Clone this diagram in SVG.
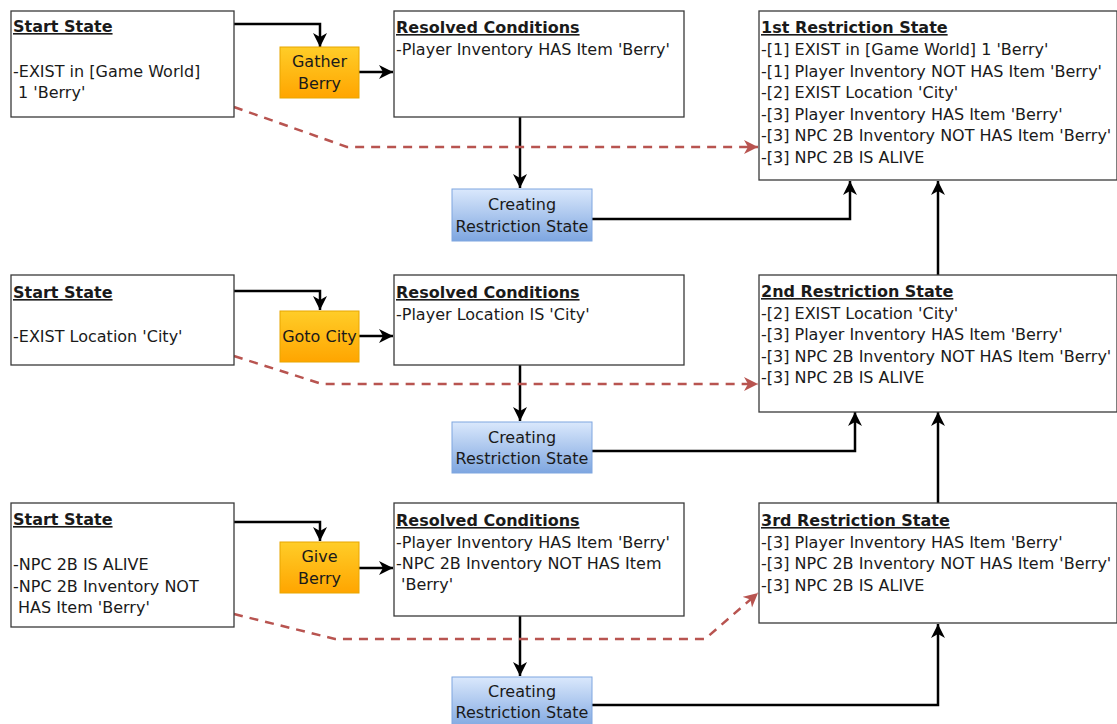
<svg xmlns="http://www.w3.org/2000/svg" width="1117" height="724" viewBox="0 0 1117 724">
  <style>
    text { font-family: "DejaVu Sans", Verdana, sans-serif; font-size: 16px; fill: #1a1a1a; }
    .title { font-weight: bold; text-decoration: underline; }
    .mid { text-anchor: middle; }
    .box { fill: #ffffff; stroke: #3a3a3a; stroke-width: 1.3; }
    .act { fill: url(#orange); stroke: #e8a600; stroke-width: 1; }
    .proc { fill: url(#blue); stroke: #7ea6e0; stroke-width: 1; }
    .flow { fill: none; stroke: #000000; stroke-width: 2.5; marker-end: url(#arrow); }
    .dash { fill: none; stroke: #b85450; stroke-width: 2.5; stroke-dasharray: 9 7; marker-end: url(#arrowRed); }
  </style>
  <defs>
    <linearGradient id="orange" x1="0" y1="0" x2="0" y2="1">
      <stop offset="0" stop-color="#ffcd28"/>
      <stop offset="1" stop-color="#ffa500"/>
    </linearGradient>
    <linearGradient id="blue" x1="0" y1="0" x2="0" y2="1">
      <stop offset="0" stop-color="#dae8fc"/>
      <stop offset="1" stop-color="#7ea6e0"/>
    </linearGradient>
    <marker id="arrow" markerUnits="userSpaceOnUse" markerWidth="16" markerHeight="16" refX="14" refY="7" orient="auto">
      <path d="M0,0 L14,7 L0,14 L4,7 Z" fill="#000000"/>
    </marker>
    <marker id="arrowRed" markerUnits="userSpaceOnUse" markerWidth="16" markerHeight="16" refX="14" refY="7" orient="auto">
      <path d="M0,0 L14,7 L0,14 L4,7 Z" fill="#b85450"/>
    </marker>
  </defs>

  <!-- connectors -->
  <g id="connectors">
    <!-- row 1 -->
    <path class="flow" d="M234,24 H320 V47"/>
    <path class="flow" d="M359,72 H393"/>
    <path class="flow" d="M520,117 V188"/>
    <path class="flow" d="M592,219 H850 V181"/>
    <path class="dash" d="M234,107 L347,147 H758"/>
    <path class="flow" d="M938,275 V181"/>
    <!-- row 2 -->
    <path class="flow" d="M234,291 H320 V310"/>
    <path class="flow" d="M359,336 H393"/>
    <path class="flow" d="M520,365 V421"/>
    <path class="flow" d="M592,451 H855 V412"/>
    <path class="dash" d="M234,356 L322,384 H758"/>
    <path class="flow" d="M938,503 V412"/>
    <!-- row 3 -->
    <path class="flow" d="M232,522 H320 V541"/>
    <path class="flow" d="M359,568 H393"/>
    <path class="flow" d="M520,616 V676"/>
    <path class="flow" d="M592,705 H938 V624"/>
    <path class="dash" d="M234,614 L335,639 H705 L758,593"/>
  </g>

  <!-- row 1 -->
  <g id="start1">
    <rect class="box" x="11" y="11" width="223" height="106"/>
    <text class="title" x="13" y="32">Start State</text>
    <text x="13" y="77">-EXIST in [Game World]</text>
    <text x="13" y="98" xml:space="preserve"> 1 'Berry'</text>
  </g>
  <g id="gatherBerry">
    <rect class="act" x="280" y="47" width="79" height="51"/>
    <text class="mid" x="319.5" y="67">Gather</text>
    <text class="mid" x="319.5" y="89">Berry</text>
  </g>
  <g id="resolved1">
    <rect class="box" x="394" y="11" width="290" height="106"/>
    <text class="title" x="396" y="33">Resolved Conditions</text>
    <text x="396" y="55">-Player Inventory HAS Item 'Berry'</text>
  </g>
  <g id="creating1">
    <rect class="proc" x="452" y="189" width="140" height="52"/>
    <text class="mid" x="522" y="210">Creating</text>
    <text class="mid" x="522" y="232">Restriction State</text>
  </g>
  <g id="restriction1">
    <rect class="box" x="759" y="11" width="358" height="169"/>
    <text class="title" x="761" y="33">1st Restriction State</text>
    <text x="761" y="55">-[1] EXIST in [Game World] 1 'Berry'</text>
    <text x="761" y="77">-[1] Player Inventory NOT HAS Item 'Berry'</text>
    <text x="761" y="98">-[2] EXIST Location 'City'</text>
    <text x="761" y="120">-[3] Player Inventory HAS Item 'Berry'</text>
    <text x="761" y="141">-[3] NPC 2B Inventory NOT HAS Item 'Berry'</text>
    <text x="761" y="163">-[3] NPC 2B IS ALIVE</text>
  </g>

  <!-- row 2 -->
  <g id="start2">
    <rect class="box" x="11" y="275" width="223" height="90"/>
    <text class="title" x="13" y="298">Start State</text>
    <text x="13" y="342">-EXIST Location 'City'</text>
  </g>
  <g id="gotoCity">
    <rect class="act" x="280" y="311" width="79" height="51"/>
    <text class="mid" x="319.5" y="342">Goto City</text>
  </g>
  <g id="resolved2">
    <rect class="box" x="394" y="275" width="290" height="90"/>
    <text class="title" x="396" y="298">Resolved Conditions</text>
    <text x="396" y="320">-Player Location IS 'City'</text>
  </g>
  <g id="creating2">
    <rect class="proc" x="452" y="422" width="140" height="51"/>
    <text class="mid" x="522" y="443">Creating</text>
    <text class="mid" x="522" y="464">Restriction State</text>
  </g>
  <g id="restriction2">
    <rect class="box" x="759" y="275" width="358" height="137"/>
    <text class="title" x="761" y="297">2nd Restriction State</text>
    <text x="761" y="319">-[2] EXIST Location 'City'</text>
    <text x="761" y="340">-[3] Player Inventory HAS Item 'Berry'</text>
    <text x="761" y="362">-[3] NPC 2B Inventory NOT HAS Item 'Berry'</text>
    <text x="761" y="383">-[3] NPC 2B IS ALIVE</text>
  </g>

  <!-- row 3 -->
  <g id="start3">
    <rect class="box" x="11" y="503" width="223" height="124"/>
    <text class="title" x="13" y="525">Start State</text>
    <text x="13" y="570">-NPC 2B IS ALIVE</text>
    <text x="13" y="592">-NPC 2B Inventory NOT</text>
    <text x="13" y="613" xml:space="preserve"> HAS Item 'Berry'</text>
  </g>
  <g id="giveBerry">
    <rect class="act" x="280" y="542" width="79" height="51"/>
    <text class="mid" x="319.5" y="562">Give</text>
    <text class="mid" x="319.5" y="584">Berry</text>
  </g>
  <g id="resolved3">
    <rect class="box" x="394" y="503" width="290" height="113"/>
    <text class="title" x="396" y="526">Resolved Conditions</text>
    <text x="396" y="548">-Player Inventory HAS Item 'Berry'</text>
    <text x="396" y="569">-NPC 2B Inventory NOT HAS Item</text>
    <text x="396" y="590" xml:space="preserve"> 'Berry'</text>
  </g>
  <g id="creating3">
    <rect class="proc" x="452" y="677" width="140" height="52"/>
    <text class="mid" x="522" y="697">Creating</text>
    <text class="mid" x="522" y="718">Restriction State</text>
  </g>
  <g id="restriction3">
    <rect class="box" x="759" y="503" width="358" height="120"/>
    <text class="title" x="761" y="526">3rd Restriction State</text>
    <text x="761" y="548">-[3] Player Inventory HAS Item 'Berry'</text>
    <text x="761" y="569">-[3] NPC 2B Inventory NOT HAS Item 'Berry'</text>
    <text x="761" y="591">-[3] NPC 2B IS ALIVE</text>
  </g>
</svg>
